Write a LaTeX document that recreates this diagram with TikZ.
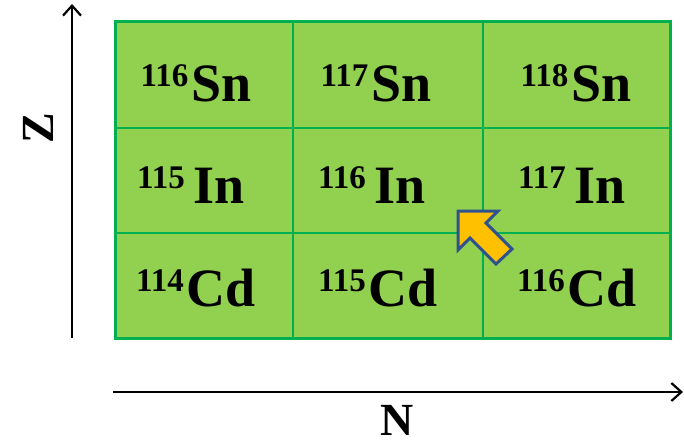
\documentclass[tikz,border=0pt]{standalone}
\usepackage{fontspec}
\setmainfont{Liberation Serif}
\usetikzlibrary{positioning, arrows.meta}
\definecolor{cellgreen}{HTML}{92D050}
\definecolor{gridgreen}{HTML}{00B050}
\definecolor{hintorange}{HTML}{FFC000}
\definecolor{hintblue}{HTML}{2F528F}
\newcommand{\iso}[2]{\raisebox{15pt}{\fontsize{33}{33}\selectfont #1}\hspace{3pt}#2}

\begin{document}
\begin{tikzpicture}[x=1pt, y=-1pt,
    lbl/.style={font=\fontsize{54}{54}\selectfont\bfseries, anchor=base, inner sep=0pt},
    axlbl/.style={font=\fontsize{46}{46}\selectfont\bfseries, inner sep=0pt},
    axis/.style={line width=2.2pt, -{Straight Barb[length=10pt, width=18pt, line width=2.2pt]}}]
  \useasboundingbox (0,0) rectangle (684,444);
  % chart of nuclides
  \filldraw[fill=cellgreen, draw=gridgreen, line width=3pt] (115,22) rectangle (670,338);
  \foreach \x in {293,483} {
    \draw[gridgreen, line width=2pt] (\x,22) -- (\x,338);
  }
  \foreach \y in {128,233} {
    \draw[gridgreen, line width=2pt] (115,\y) -- (670,\y);
  }
  \foreach \name/\x/\y/\a/\el in {sn116/196/101/116/Sn, sn117/376/101/117/Sn, sn118/576/101/118/Sn,
      in115/191/203/115/\hspace{6pt}In, in116/372/203/116/\hspace{6pt}In, in117/572/203/117/\hspace{6pt}In,
      cd114/196/306/114/Cd, cd115/378/306/115/Cd, cd116/577/306/116/Cd} {
    \node[lbl] (\name) at (\x,\y) {\iso{\a}{\el}};
  }
  % decay arrow
  \filldraw[fill=hintorange, draw=hintblue, line width=3pt, line join=miter]
    (458,211) -- (498,211) -- (486,223) -- (512,249) -- (496,264) -- (470,238) -- (458,250) -- cycle;
  % axes
  \coordinate (zlo) at (72,338);
  \coordinate (zhi) at (72,4);
  \coordinate (nlo) at (113,392);
  \coordinate (nhi) at (683,392);
  \draw[axis] (zlo) -- (zhi);
  \draw[axis] (nlo) -- (nhi);
  \node[axlbl, rotate=90] (zlab) at (38,128) {Z};
  \node[axlbl] (nlab) at (397,420) {N};
\end{tikzpicture}
\end{document}
